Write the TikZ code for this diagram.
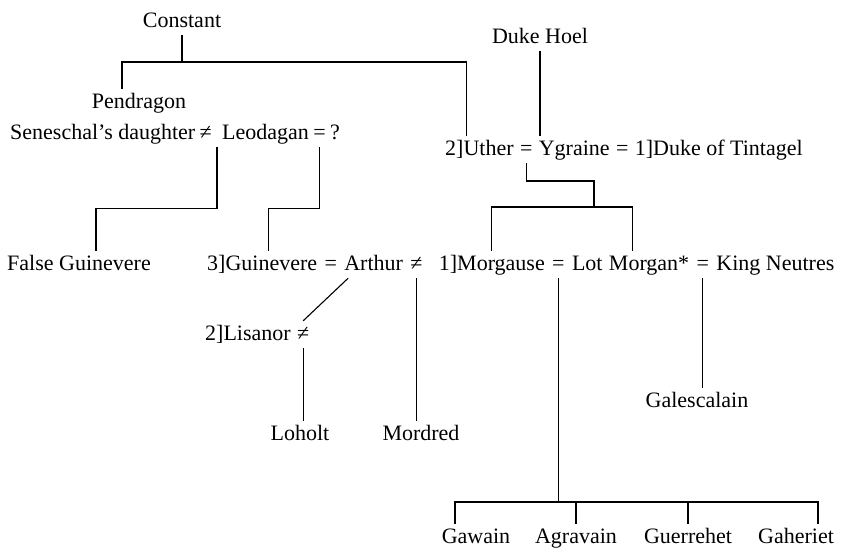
\documentclass[tikz,border=0pt]{standalone}
\usepackage{fontspec}
\setmainfont{Liberation Serif}
\usepackage{tikz}
\usetikzlibrary{positioning, calc}
\newcommand{\treefont}{\fontsize{22}{26}\selectfont}
\tikzset{
  person/.style={font=\treefont, inner xsep=0pt, inner ysep=4pt, text height=15pt, text depth=4pt},
  bond/.style={person},
  line/.style={line width=1.1pt, black}
}
\begin{document}
\begin{tikzpicture}[x=1pt, y=-1pt]
\useasboundingbox (0,0) rectangle (841,555);

\node[person, anchor=base] (constant) at (182,27) {Constant};
\node[person, anchor=base] (hoel) at (540,43) {Duke Hoel};
\node[person, anchor=base] (pendragon) at (139,108) {Pendragon};

\node[person, anchor=base west] (seneschal) at (10,139) {Seneschal's daughter};
\node[bond, base right=4pt of seneschal] (sb1) {≠};
\node[person, base right=10pt of sb1] (leodagan) {Leodagan};
\node[bond, base right=4pt of leodagan] (sb2) {=};
\node[person, base right=4pt of sb2] (unknown) {?};

\node[person, anchor=base west] (uther) at (445,155) {2]Uther};
\node[bond, base right=6pt of uther] (ub1) {=};
\node[person, base right=6pt of ub1] (ygraine) {Ygraine};
\node[bond, base right=6pt of ygraine] (ub2) {=};
\node[person, base right=6pt of ub2] (tintagel) {1]Duke of Tintagel};

\node[person, anchor=base west] (falseg) at (7,270) {False Guinevere};
\node[person, anchor=base west] (guinevere) at (207,270) {3]Guinevere};
\node[bond, base right=7pt of guinevere] (ab1) {=};
\node[person, base right=7pt of ab1] (arthur) {Arthur};
\node[bond, base right=7pt of arthur] (ab2) {≠};
\node[person, base right=16pt of ab2] (morgause) {1]Morgause};
\node[bond, base right=7pt of morgause] (lb1) {=};
\node[person, base right=7pt of lb1] (lot) {Lot};
\node[person, base right=6pt of lot] (morgan) {Morgan*};
\node[bond, base right=7pt of morgan] (mb1) {=};
\node[person, base right=7pt of mb1] (neutres) {King Neutres};

\node[person, anchor=base west] (lisanor) at (205,340) {2]Lisanor};
\node[bond, base right=6pt of lisanor] (lsb1) {≠};

\node[person, anchor=base] (galescalain) at (697,407) {Galescalain};
\node[person, anchor=base] (loholt) at (300,440) {Loholt};
\node[person, anchor=base] (mordred) at (421,440) {Mordred};

\node[person, anchor=base] (gawain) at (476,543) {Gawain};
\node[person, anchor=base] (agravain) at (576,543) {Agravain};
\node[person, anchor=base] (guerrehet) at (688,543) {Guerrehet};
\node[person, anchor=base] (gaheriet) at (796,543) {Gaheriet};

\coordinate (cjoin) at (182,62);
\coordinate (ytop) at (594,181);
\coordinate (yjoin) at (594,207);
\coordinate (sonsbar) at (557,502);

\draw[line] (constant.south) -- (cjoin);
\draw[line] ([xshift=-17pt]pendragon.north) |- (cjoin) -| ([xshift=-13pt]uther.north);
\draw[line] (hoel.south) -- (hoel.south |- ygraine.north);

\draw[line] ($(sb1.south east)!0.5!(leodagan.south west)$) -- ++(0,61) -| ([xshift=17pt]falseg.north);
\draw[line] (sb2.south) -- ++(0,61) -| ([xshift=6pt]guinevere.north);

\draw[line] (ub1.south) |- (ytop) -- (yjoin);
\draw[line] (morgause.north) |- (yjoin) -| ([xshift=-17pt]morgan.north);

\draw[line] ([xshift=4pt]arthur.south west) -- (lsb1.north);
\draw[line] (lsb1.south) -- (lsb1.south |- loholt.north);
\draw[line] (ab2.south) -- (ab2.south |- mordred.north);
\draw[line] (mb1.south) -- (mb1.south |- galescalain.north);

\draw[line] (lb1.south) -- (lb1.south |- sonsbar);
\draw[line] ([xshift=-21pt]gawain.north) |- (sonsbar) -| ([xshift=22pt]gaheriet.north);
\draw[line] (agravain.north) -- (agravain.north |- sonsbar);
\draw[line] (guerrehet.north) -- (guerrehet.north |- sonsbar);
\end{tikzpicture}
\end{document}
